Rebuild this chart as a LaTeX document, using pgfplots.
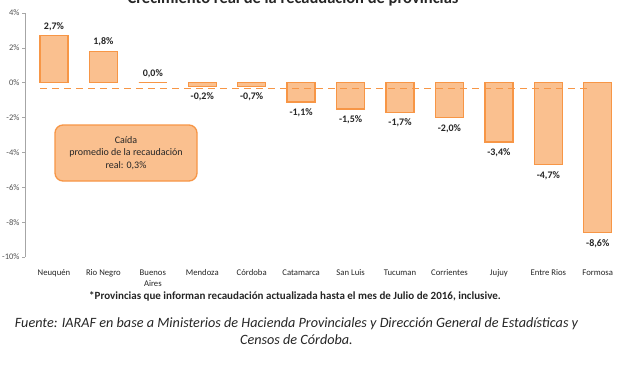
\documentclass[border=0pt]{standalone}
\usepackage{fontspec}
\setmainfont{Carlito}
\usepackage{pgfplots}
\pgfplotsset{compat=1.18}
\definecolor{orL}{HTML}{FAC08F}
\definecolor{orD}{HTML}{F79646}
\definecolor{txt}{HTML}{262626}
\begin{document}
\begin{tikzpicture}
\useasboundingbox (0,0) rectangle (620pt,-370pt);
\clip (0,0) rectangle (620pt,-370pt);
\fill[white] (0,0) rectangle (620pt,-370pt);
\node[font=\bfseries\fontsize{16.5}{18}\selectfont, text=txt, anchor=base] at (293pt,-3.5pt) {Crecimiento real de la recaudación de provincias};
\begin{axis}[
  at={(25pt,-257pt)}, anchor=south west,
  scale only axis, width=595pt, height=244pt,
  xmin=-0.586, xmax=11.45, ymin=-10, ymax=4,
  axis y line=left, axis x line=bottom,
  axis line style={-},
  x axis line style={draw=none},
  y axis line style={draw=gray!70, line width=0.6pt},
  ytick={-10,-8,...,4},
  yticklabel={\pgfmathprintnumber{\tick}\%},
  /pgf/number format/assume math mode=true,
  tick align=outside, major tick length=3pt,
  ytick style={draw=gray!70, line width=0.6pt},
  xtick style={draw=none},
  yticklabel style={font=\fontsize{8.5}{9}\selectfont, text=txt!80, xshift=1pt},
  xtick={0,...,11},
  xticklabels={Neuquén,Rio Negro,Buenos\\Aires,Mendoza,Córdoba,Catamarca,San Luis,Tucuman,Corrientes,Jujuy,Entre Rios,Formosa},
  xticklabel style={font=\fontsize{8.7}{11.5}\selectfont, text=txt, align=center, anchor=north, yshift=-6pt},
  clip=false,
]
\addplot[ybar, bar width=28pt, fill=orL, draw=orD, line width=1.3pt] coordinates {
  (0,2.7) (1,1.8) (2,0.0) (3,-0.2) (4,-0.2) (5,-1.1) (6,-1.5) (7,-1.7) (8,-2.0) (9,-3.4) (10,-4.7) (11,-8.6)
};
\addplot[draw=orD, line width=1.8pt, dash pattern=on 7pt off 5pt] coordinates {(-0.28,-0.33) (10.8,-0.33)};
\addplot[only marks, mark=none, point meta=explicit symbolic, nodes near coords,
  nodes near coords style={anchor=south, font=\bfseries\fontsize{10}{11}\selectfont, text=txt, yshift=1.5pt}]
  coordinates {(0,2.7)[2,7\%] (1,1.8)[1,8\%] (2,0.0)[0,0\%]};
\addplot[only marks, mark=none, point meta=explicit symbolic, nodes near coords,
  nodes near coords style={anchor=north, font=\bfseries\fontsize{10}{11}\selectfont, text=txt, yshift=-3pt}]
  coordinates {(3,-0.2)[-0,2\%] (4,-0.2)[-0,7\%] (5,-1.1)[-1,1\%] (6,-1.5)[-1,5\%] (7,-1.7)[-1,7\%] (8,-2.0)[-2,0\%] (9,-3.4)[-3,4\%] (10,-4.7)[-4,7\%] (11,-8.6)[-8,6\%]};
\end{axis}
\node[fill=orL, draw=orD, line width=1.3pt, rounded corners=8pt, minimum width=142pt, minimum height=56pt, align=center,
  font=\fontsize{10}{12.5}\selectfont, text=txt] at (126pt,-153pt) {Caída\\promedio de la recaudación\\real: 0,3\%};
\node[font=\bfseries\fontsize{11}{12}\selectfont, text=txt] at (295pt,-296pt) {*Provincias que informan recaudación actualizada hasta el mes de Julio de 2016, inclusive.};
\node[font=\itshape\fontsize{14.2}{17}\selectfont, text=txt, align=center] at (296.5pt,-331.5pt) {Fuente: IARAF en base a Ministerios de Hacienda Provinciales y Dirección General de Estadísticas y\\Censos de Córdoba.};
\end{tikzpicture}
\end{document}
